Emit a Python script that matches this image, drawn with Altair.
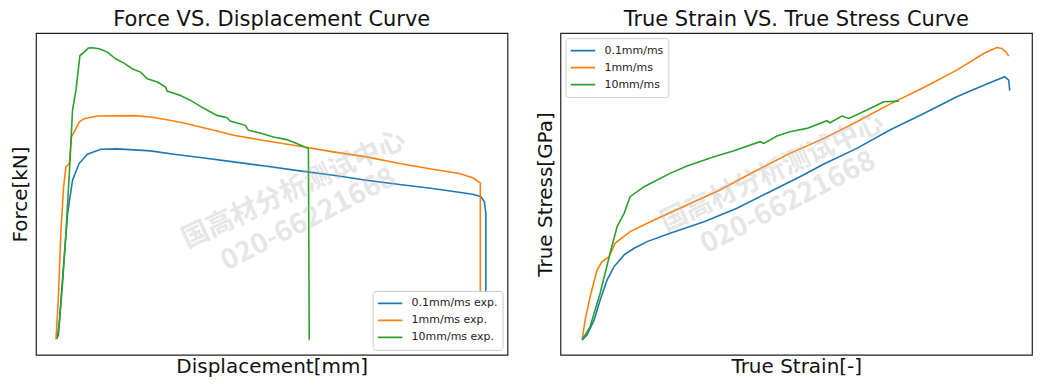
import altair as alt
import pandas as pd

COLORS = ["#1f77b4", "#ff7f0e", "#2ca02c"]
FONT = "DejaVu Sans"
WM_FONT = "Noto Sans CJK SC"

# ---------- Force vs displacement ----------
fd_labels = ["0.1mm/ms exp.", "1mm/ms exp.", "10mm/ms exp."]

fd_blue_x = [0.11, 0.33, 0.55, 0.78, 1.09, 1.48, 2.11, 2.89, 4.45, 5.55, 6.80, 8.36, 9.92, 11.48,
             13.05, 14.61, 16.17, 17.73, 19.61, 20.0, 20.16, 20.23, 20.23]
fd_blue_y = [0.17, 6.5, 12.5, 15.83, 17.5, 18.43, 18.93, 18.97, 18.77, 18.43, 18.1, 17.67, 17.23, 16.77,
             16.33, 15.83, 15.4, 15.0, 14.43, 14.17, 13.67, 12.5, 0.0]

fd_orange_x = [0, 0.11, 0.23, 0.36, 0.47, 0.63, 0.73, 0.94, 1.09, 1.33, 1.95, 3.67, 4.45, 5.23, 6.02,
               6.80, 7.58, 8.36, 9.92, 11.48, 13.05, 14.61, 16.17, 17.73, 18.98, 19.61, 19.97, 19.97]
fd_orange_y = [-0.1, 3.83, 10.5, 15.17, 17.17, 17.5, 20.17, 21.0, 21.67, 22.0, 22.27, 22.3, 22.17, 21.9,
               21.57, 21.17, 20.77, 20.33, 19.77, 19.23, 18.67, 18.17, 17.5, 16.93, 16.5, 16.07, 15.57, 0.0]

fd_green_x = [0.05, 0.16, 0.31, 0.47, 0.63, 0.78, 0.94, 1.13, 1.33, 1.52, 1.72, 2.03, 2.42, 2.81, 3.20,
              3.59, 3.98, 4.30, 4.77, 5.16, 5.23, 5.86, 6.33, 6.80, 7.19, 7.58, 8.05, 8.20, 8.91, 9.06,
              9.61, 10.23, 10.86, 11.33, 11.88, 11.92]
fd_green_y = [-0.1, 1.5, 5.5, 10.5, 16.5, 22.83, 24.83, 28.33, 28.67, 29.07, 29.1, 29.0, 28.67, 28.0,
              27.57, 27.0, 26.67, 26.0, 25.67, 25.17, 24.77, 24.33, 23.83, 23.23, 22.77, 22.33, 22.1,
              21.77, 21.33, 20.83, 20.57, 20.17, 19.9, 19.5, 19.0, -0.17]

fd_xdom = [-0.94, 21.25]
fd_ydom = [-1.67, 30.57]

# ---------- True strain vs true stress ----------
ss_labels = ["0.1mm/ms", "1mm/ms", "10mm/ms"]

ss_blue_x = [0.000, 0.005, 0.012, 0.018, 0.025, 0.032, 0.042, 0.052, 0.065, 0.088, 0.122, 0.155, 0.188,
             0.218, 0.242, 0.275, 0.308, 0.342, 0.375, 0.408, 0.423, 0.427, 0.428]
ss_blue_y = [0.000, 0.015, 0.060, 0.120, 0.180, 0.220, 0.255, 0.275, 0.295, 0.320, 0.355, 0.395, 0.445,
             0.490, 0.528, 0.575, 0.630, 0.680, 0.730, 0.772, 0.790, 0.780, 0.748]

ss_orange_x = [0.000, 0.003, 0.008, 0.015, 0.020, 0.027, 0.033, 0.048, 0.072, 0.105, 0.138, 0.172, 0.208,
               0.242, 0.275, 0.308, 0.342, 0.375, 0.402, 0.415, 0.420, 0.424, 0.427]
ss_orange_y = [0.000, 0.060, 0.130, 0.210, 0.235, 0.250, 0.290, 0.325, 0.360, 0.405, 0.450, 0.505, 0.560,
               0.605, 0.655, 0.708, 0.758, 0.810, 0.860, 0.878, 0.875, 0.865, 0.852]

ss_green_x = [0.000, 0.008, 0.018, 0.028, 0.035, 0.042, 0.048, 0.062, 0.088, 0.105, 0.132, 0.152, 0.178,
              0.182, 0.195, 0.208, 0.225, 0.245, 0.248, 0.260, 0.267, 0.285, 0.302, 0.317]
ss_green_y = [0.000, 0.040, 0.140, 0.260, 0.340, 0.380, 0.430, 0.460, 0.500, 0.522, 0.550, 0.568, 0.595,
              0.590, 0.612, 0.625, 0.635, 0.658, 0.652, 0.672, 0.665, 0.690, 0.715, 0.717]

ss_xdom = [-0.0217, 0.4503]
ss_ydom = [-0.045, 0.921]

WM_LINE1 = "国高材分析测试中心"
WM_LINE2 = "020-66221668"


def make_df(labels, xs, ys):
    rows = []
    for lab, xv, yv in zip(labels, xs, ys):
        for i, (a, b) in enumerate(zip(xv, yv)):
            rows.append({"series": lab, "x": a, "y": b, "i": i})
    return pd.DataFrame(rows)


def panel(df, labels, xdom, ydom, xtitle, ytitle, title, orient, wm_pos):
    legend = alt.Legend(
        title=None, orient=orient, offset=5, symbolType="stroke", symbolSize=600,
        symbolStrokeWidth=1.6, clipHeight=17, rowPadding=0, padding=4,
        labelFont=FONT, labelFontSize=11, labelColor="#222222", labelOffset=8,
        strokeColor="#cccccc", fillColor="white", cornerRadius=3,
    )
    axis_common = dict(labels=False, ticks=False, domain=False, grid=False,
                       titleFont=FONT, titleFontSize=20, titleFontWeight="normal",
                       titleColor="#111111")
    lines = alt.Chart(df).mark_line(strokeWidth=1.6, clip=True).encode(
        x=alt.X("x:Q", scale=alt.Scale(domain=xdom, nice=False, zero=False),
                axis=alt.Axis(title=xtitle, titlePadding=2, **axis_common)),
        y=alt.Y("y:Q", scale=alt.Scale(domain=ydom, nice=False, zero=False),
                axis=alt.Axis(title=ytitle, titlePadding=5, **axis_common)),
        color=alt.Color("series:N", scale=alt.Scale(domain=labels, range=COLORS), legend=legend),
        order=alt.Order("i:Q"),
    )
    (x1, y1), (x2, y2) = wm_pos
    wm1 = alt.Chart(pd.DataFrame({"t": [WM_LINE1]})).mark_text(
        font=WM_FONT, fontSize=27, fontWeight="bold", angle=335, color="#b8b8b8",
        opacity=0.35, align="center", baseline="middle"
    ).encode(text="t:N", x=alt.value(x1), y=alt.value(y1))
    wm2 = alt.Chart(pd.DataFrame({"t": [WM_LINE2]})).mark_text(
        font=WM_FONT, fontSize=28, fontWeight="bold", angle=333, color="#b8b8b8",
        opacity=0.35, align="center", baseline="middle"
    ).encode(text="t:N", x=alt.value(x2), y=alt.value(y2))
    return alt.layer(lines, wm1, wm2).properties(
        width=472, height=322,
        title=alt.TitleParams(title, font=FONT, fontSize=21, fontWeight="normal",
                              color="#111111", anchor="middle", offset=3),
    )


left = panel(make_df(fd_labels, [fd_blue_x, fd_orange_x, fd_green_x],
                     [fd_blue_y, fd_orange_y, fd_green_y]),
             fd_labels, fd_xdom, fd_ydom, "Displacement[mm]", "Force[kN]",
             "Force VS. Displacement Curve", "bottom-right",
             [(258, 157), (273, 187)])

right = panel(make_df(ss_labels, [ss_blue_x, ss_orange_x, ss_green_x],
                      [ss_blue_y, ss_orange_y, ss_green_y]),
              ss_labels, ss_xdom, ss_ydom, "True Strain[-]", "True Stress[GPa]",
              "True Strain VS. True Stress Curve", "top-left",
              [(212, 140), (228, 170)])

chart = alt.hconcat(left, right, spacing=26).resolve_scale(color="independent").configure_view(
    stroke="#222222", strokeWidth=1.2
).properties(padding={"left": 2, "top": 0, "right": 0, "bottom": 0})

chart.save("out.html", embed_options={"renderer": "svg", "actions": False})
